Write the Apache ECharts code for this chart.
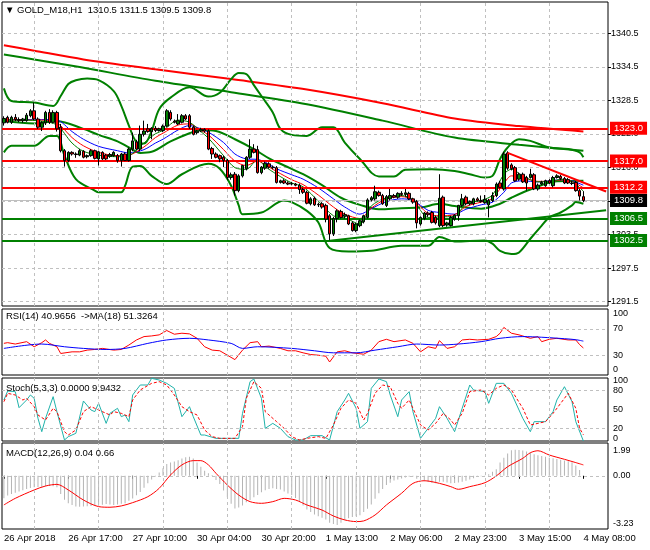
<!DOCTYPE html>
<html><head><meta charset="utf-8">
<script src="https://cdn.jsdelivr.net/npm/echarts@6/dist/echarts.min.js"></script>
<style>html,body{margin:0;padding:0;background:#fff}#c{width:650px;height:550px}</style>
</head><body><div id="c"></div>
<script>
const symbolTitle = '\u25BC GOLD_M18,H1  1310.5 1311.5 1309.5 1309.8';
const rsiTitle = 'RSI(14) 40.9656  ->MA(18) 51.3264';
const stochTitle = 'Stoch(5,3,3) 0.0000 9.9432';
const macdTitle = 'MACD(12,26,9) 0.04 0.66';
const dateLabels = ['26 Apr 2018','26 Apr 17:00','27 Apr 10:00','30 Apr 04:00','30 Apr 20:00','1 May 13:00','2 May 06:00','2 May 23:00','3 May 15:00','4 May 08:00'];
const mainTickLabels = ['1291.5','1297.5','1303.5','1309.5','1316.0','1322.0','1328.5','1334.5','1340.5'];

const opens = [1324.0,1325.0,1324.1,1325.0,1324.6,1324.4,1324.4,1325.3,1326.2,1324.7,
1323.2,1324.0,1325.9,1324.1,1325.9,1323.2,1318.9,1317.1,1318.6,1318.3,
1318.1,1318.8,1317.8,1318.0,1318.9,1317.4,1318.6,1318.1,1317.9,1318.0,
1318.0,1317.1,1318.3,1317.1,1319.2,1320.5,1319.2,1321.9,1322.9,1322.4,
1323.0,1322.6,1322.6,1323.4,1325.9,1324.3,1323.8,1324.1,1325.3,1325.3,
1323.2,1322.2,1322.5,1322.8,1322.5,1319.3,1318.3,1318.0,1317.7,1317.1,
1314.0,1314.6,1311.6,1314.3,1315.6,1317.7,1319.2,1319.1,1314.9,1315.7,
1316.5,1315.9,1315.8,1313.1,1313.4,1313.0,1312.8,1312.8,1312.6,1311.8,
1311.3,1309.2,1310.2,1309.0,1309.2,1308.9,1307.0,1303.7,1306.5,1307.8,
1306.9,1307.0,1305.7,1304.3,1305.2,1305.9,1306.7,1309.9,1310.1,1311.3,
1310.7,1308.9,1310.1,1310.7,1310.4,1311.1,1310.9,1311.1,1310.1,1309.6,
1305.5,1306.5,1307.5,1307.6,1306.7,1305.2,1310.4,1305.3,1305.2,1306.4,
1307.0,1308.9,1310.4,1309.2,1309.2,1310.1,1309.8,1309.4,1309.0,1309.8,
1310.7,1313.0,1311.9,1318.5,1316.3,1315.8,1313.7,1314.6,1314.0,1314.0,
1314.5,1311.9,1312.8,1312.5,1313.4,1312.5,1314.0,1314.2,1313.8,1313.6,
1313.0,1313.1,1311.6,1310.5];
const highs = [1325.2,1325.3,1325.3,1325.6,1325.0,1324.9,1325.8,1326.5,1327.7,1325.0,
1324.3,1326.2,1326.5,1326.3,1326.2,1323.8,1319.2,1318.8,1318.8,1318.6,
1319.2,1319.0,1318.2,1319.2,1319.1,1318.9,1318.8,1318.3,1318.5,1318.8,
1318.3,1318.5,1318.6,1319.5,1322.2,1320.9,1323.5,1324.4,1323.8,1323.2,
1323.4,1323.1,1323.7,1326.5,1326.3,1324.6,1325.6,1325.6,1325.6,1325.6,
1323.5,1322.7,1323.1,1323.0,1322.8,1319.6,1318.6,1318.2,1318.0,1317.4,
1314.9,1315.0,1314.6,1316.3,1317.9,1321.0,1320.1,1319.8,1316.1,1316.9,
1316.8,1316.2,1316.1,1313.6,1313.7,1313.3,1313.2,1313.0,1312.9,1312.1,
1311.6,1310.4,1310.5,1309.4,1309.5,1309.2,1307.3,1306.8,1308.2,1308.1,
1307.6,1307.2,1306.0,1305.7,1306.3,1307.2,1310.2,1310.6,1312.5,1311.6,
1311.0,1310.8,1311.9,1311.0,1311.3,1311.5,1311.9,1311.4,1310.3,1309.9,
1306.9,1307.7,1307.8,1307.9,1307.0,1314.6,1310.7,1305.9,1307.0,1307.3,
1309.0,1311.0,1310.7,1309.8,1310.3,1310.4,1310.7,1310.8,1310.1,1311.3,
1313.1,1313.4,1318.7,1318.8,1316.6,1316.1,1314.9,1314.9,1314.3,1315.6,
1314.8,1312.9,1313.4,1313.6,1313.7,1314.3,1314.6,1314.5,1314.1,1313.9,
1313.4,1313.4,1311.9,1311.5];
const lows = [1323.5,1323.9,1323.8,1324.3,1324.1,1324.0,1324.2,1325.0,1324.5,1322.9,
1322.5,1323.6,1323.8,1323.9,1322.4,1318.6,1316.0,1316.8,1318.0,1317.6,
1317.9,1317.5,1317.5,1317.8,1317.3,1316.2,1317.2,1317.2,1317.6,1317.8,
1316.7,1316.0,1317.0,1316.9,1318.8,1319.0,1318.8,1321.5,1322.2,1321.0,
1322.3,1322.4,1322.3,1323.2,1324.4,1323.9,1323.6,1323.9,1324.5,1322.9,
1321.7,1321.9,1322.3,1322.2,1319.0,1317.4,1317.5,1316.8,1315.9,1313.5,
1313.6,1310.7,1311.3,1314.0,1315.3,1317.4,1318.4,1314.7,1314.6,1315.4,
1315.6,1315.5,1312.9,1312.9,1312.8,1312.6,1312.6,1312.4,1311.0,1311.0,
1309.1,1308.9,1308.8,1308.6,1308.3,1305.8,1302.5,1303.3,1305.8,1306.5,
1306.5,1305.3,1304.1,1304.0,1304.9,1305.6,1306.5,1309.6,1309.8,1310.5,
1309.0,1308.6,1309.8,1310.2,1310.1,1310.6,1310.5,1309.9,1309.2,1304.7,
1305.2,1306.2,1306.8,1305.6,1305.4,1304.9,1304.9,1305.0,1305.0,1306.1,
1306.1,1308.6,1308.9,1308.9,1308.9,1309.6,1309.4,1309.2,1306.7,1309.5,
1310.4,1312.0,1311.6,1315.4,1315.3,1313.2,1313.4,1313.0,1311.6,1313.8,
1311.7,1311.6,1312.6,1312.3,1312.8,1312.2,1313.8,1313.5,1312.8,1312.8,
1312.6,1311.4,1309.8,1309.5];
const closes = [1324.8,1324.1,1325.0,1324.6,1324.4,1324.7,1325.4,1326.2,1324.7,1323.2,
1324.0,1325.9,1324.1,1325.9,1322.9,1318.9,1317.1,1318.6,1318.3,1318.2,
1318.9,1317.7,1318.0,1318.9,1317.5,1318.7,1317.4,1317.4,1318.2,1318.6,
1317.1,1318.3,1317.1,1319.2,1320.7,1319.2,1321.9,1322.5,1322.4,1323.0,
1322.6,1322.9,1323.4,1326.2,1324.7,1324.1,1324.4,1325.3,1324.7,1323.2,
1321.9,1322.5,1322.8,1322.5,1319.2,1318.3,1317.7,1317.4,1317.1,1314.0,
1314.5,1311.6,1314.3,1316.2,1317.7,1319.2,1318.6,1314.9,1315.9,1316.6,
1315.9,1315.8,1313.1,1313.4,1313.0,1312.8,1312.9,1312.6,1311.8,1311.3,
1309.3,1310.1,1309.0,1309.1,1308.6,1306.4,1303.7,1306.5,1307.9,1306.7,
1307.2,1305.5,1304.3,1305.5,1306.1,1307.0,1309.9,1310.3,1311.4,1310.7,
1309.2,1310.5,1310.7,1310.4,1311.1,1310.9,1311.2,1310.1,1309.5,1305.7,
1306.7,1307.5,1307.2,1305.8,1305.7,1310.2,1305.2,1305.7,1306.7,1307.1,
1308.9,1310.1,1309.2,1309.6,1310.1,1309.8,1309.6,1310.0,1309.8,1310.7,
1312.8,1312.2,1318.3,1315.7,1315.6,1313.4,1314.6,1313.2,1313.0,1314.6,
1311.9,1312.6,1313.1,1313.4,1313.0,1314.0,1314.3,1313.8,1313.0,1313.0,
1312.9,1311.6,1310.6,1309.8];

// long moving averages [bar index, price]
const longRedMA = [[0,1338.2],[8,1337.2],[21,1335.6],[40,1333.8],[60,1332.0],[80,1330.1],[100,1327.6],[119,1324.8],[136,1323.4],[153,1322.4]];
const longGreenMA = [[0,1336.5],[8,1335.6],[20,1334.2],[40,1331.7],[60,1329.6],[80,1327.4],[100,1324.4],[119,1321.3],[136,1320.0],[153,1318.9]];
// Bollinger bands
const bbUpper = [[0,1330.3],[2,1328.0],[8,1327.7],[13,1327.1],[15,1328.9],[17,1331.1],[19,1331.8],[22,1332.1],[25,1331.8],[29,1329.8],[31,1327.1],[33,1323.5],[35,1320.5],[37,1320.2],[39,1322.5],[41,1326.5],[44,1328.6],[49,1330.5],[54,1328.8],[57,1329.5],[60,1332.0],[62,1333.1],[64,1332.9],[66,1330.9],[68,1328.9],[71,1325.9],[73,1322.9],[76,1321.8],[80,1321.6],[84,1323.2],[87,1323.2],[90,1320.4],[94,1317.4],[99,1314.2],[103,1314.2],[106,1315.4],[113,1315.5],[119,1315.2],[123,1314.6],[127,1314.0],[129,1314.3],[131,1317.4],[133,1319.5],[136,1321.0],[139,1320.7],[144,1319.5],[149,1319.2],[152,1318.6],[153,1317.7]];
const bbMiddle = [[0,1324.4],[8,1323.9],[14,1324.3],[21,1322.9],[25,1321.8],[30,1320.6],[33,1319.5],[36,1318.5],[39,1318.7],[44,1320.6],[49,1322.1],[52,1322.7],[56,1322.5],[61,1321.0],[66,1319.2],[70,1317.5],[74,1316.2],[79,1314.6],[84,1312.6],[89,1310.3],[94,1309.0],[99,1308.2],[105,1308.4],[110,1308.5],[115,1309.2],[119,1308.8],[126,1308.3],[131,1309.2],[134,1310.3],[139,1311.8],[146,1313.3],[153,1313.4]];
const bbLower = [[0,1318.6],[2,1319.8],[8,1319.8],[12,1321.6],[14,1321.6],[16,1318.0],[19,1313.7],[24,1311.6],[25,1311.3],[31,1311.3],[32,1312.5],[34,1316.0],[36,1316.1],[39,1314.3],[43,1312.8],[47,1314.6],[54,1316.5],[57,1315.6],[60,1312.5],[62,1308.9],[63,1307.3],[68,1307.6],[74,1309.8],[76,1309.5],[80,1307.9],[83,1305.8],[86,1301.1],[91,1300.45],[97,1300.6],[105,1301.5],[112,1301.5],[115,1303.1],[119,1302.3],[127,1302.5],[129,1301.9],[131,1300.6],[134,1300.0],[136,1300.3],[139,1302.8],[142,1305.2],[144,1306.7],[147,1307.6],[150,1308.9],[151,1309.5],[153,1309.2]];
// short moving averages sampled at these bars
const maIdx = [0,5,10,14,18,21,25,30,33,37,40,42,46,49,52,54,58,61,64,67,69,72,76,79,83,87,90,94,97,101,105,108,112,115,119,122,126,129,132,134,137,141,144,148,150,153];
const maBlue = [1324.5,1324.6,1324.6,1324.5,1322.4,1321.0,1319.7,1318.9,1318.5,1319.1,1320.3,1321.0,1322.7,1323.5,1322.9,1322.3,1320.4,1318.3,1317.4,1317.3,1316.8,1315.6,1314.5,1313.7,1312.1,1310.1,1308.6,1307.3,1308.3,1309.6,1310.1,1309.8,1308.0,1307.6,1307.3,1308.2,1309.0,1309.5,1311.3,1313.0,1313.4,1313.2,1313.4,1313.6,1313.4,1312.6];
const maRed = [1324.6,1324.5,1324.5,1324.0,1321.3,1319.8,1318.6,1318.0,1318.1,1319.6,1321.3,1322.1,1323.6,1323.8,1322.6,1321.8,1319.1,1317.0,1316.2,1317.0,1316.3,1315.1,1313.6,1312.7,1310.8,1308.6,1307.3,1306.5,1308.4,1310.1,1310.5,1309.9,1307.4,1307.0,1307.2,1308.7,1309.5,1310.2,1312.9,1314.3,1314.0,1313.3,1313.3,1313.6,1313.3,1312.1];
const maGreen = [1324.5,1324.5,1324.3,1323.6,1320.3,1318.8,1318.1,1317.8,1318.0,1320.3,1322.0,1322.6,1324.5,1324.1,1322.4,1321.2,1318.0,1315.8,1315.5,1317.3,1316.0,1314.6,1313.0,1312.3,1309.7,1307.0,1306.6,1305.5,1308.8,1310.3,1310.7,1309.9,1306.7,1306.8,1306.9,1309.2,1309.8,1310.8,1314.6,1315.5,1314.3,1313.2,1313.3,1313.7,1313.3,1311.5];
// trend lines and levels
const trendRed = [[133,1318.5],[159,1311.45]];
const trendGreen = [[86,1302.45],[159,1308.0]];
const redLevels = [1323.0, 1317.0, 1312.2];
const greenLevels = [1306.5, 1302.5];
const bidPrice = 1309.8;

// RSI
const rsiLine = [[0,48.0],[1,49.0],[3,46.9],[6,50.5],[8,42.8],[10,49.0],[11,53.1],[12,48.0],[14,42.8],[15,32.6],[18,35.1],[20,35.1],[22,37.7],[24,38.7],[26,40.3],[29,37.7],[31,38.7],[33,45.4],[35,53.1],[37,58.2],[39,59.2],[41,60.8],[43,67.4],[45,61.8],[47,63.3],[49,62.3],[51,55.6],[53,42.8],[55,37.7],[57,36.7],[59,30.0],[61,23.3],[63,37.7],[65,49.0],[67,50.5],[68,42.8],[70,43.8],[73,40.3],[75,36.7],[77,36.7],[79,33.6],[81,31.0],[83,30.0],[85,28.5],[86,19.7],[88,35.1],[90,36.7],[92,33.6],[95,31.5],[97,37.7],[99,50.5],[101,54.1],[103,50.5],[106,53.1],[108,48.0],[110,35.1],[112,42.8],[114,40.3],[115,52.1],[117,40.3],[119,42.8],[121,53.1],[123,54.1],[125,53.1],[128,54.1],[130,58.2],[131,63.3],[132,72.1],[134,63.3],[136,60.8],[139,55.6],[141,58.2],[142,50.5],[144,54.1],[146,55.6],[149,53.1],[151,53.1],[152,46.0],[153,40.97]];
const rsiMA = [[0,40.3],[10,46.9],[16,42.8],[21,40.3],[27,38.7],[32,40.3],[38,47.9],[43,53.1],[49,55.6],[54,53.1],[60,47.9],[63,40.3],[67,42.8],[76,40.3],[82,36.7],[87,33.6],[93,33.6],[98,37.7],[104,42.8],[109,46.9],[115,45.4],[120,46.9],[126,50.5],[131,55.6],[137,58.2],[142,57.2],[148,55.0],[151,53.5],[153,51.33]];
// Stochastic
const stochK = [[0,65.1],[1,79.4],[3,78.3],[4,52.9],[6,65.1],[7,73.0],[8,67.7],[9,36.0],[10,14.8],[11,36.0],[13,70.4],[14,46.6],[16,1.6],[17,6.9],[19,12.2],[21,63.5],[23,49.2],[24,46.6],[25,59.8],[27,28.0],[28,43.9],[30,51.9],[31,38.6],[32,41.3],[33,30.7],[34,73.0],[36,88.9],[38,88.9],[39,99.5],[41,96.8],[43,91.5],[45,83.6],[47,38.6],[49,54.5],[50,38.6],[52,9.5],[53,9.5],[56,4.2],[59,4.2],[62,4.2],[63,43.9],[65,94.2],[66,98.4],[68,67.7],[69,20.1],[71,28.0],[73,20.1],[75,6.9],[77,1.6],[79,1.6],[81,8.5],[84,8.5],[86,1.6],[88,46.6],[90,65.1],[91,75.7],[93,51.9],[94,20.1],[96,30.7],[97,83.6],[99,98.4],[101,94.2],[102,73.0],[104,38.6],[105,65.1],[107,78.3],[108,46.6],[110,4.2],[112,20.1],[114,36.0],[115,54.5],[117,36.0],[119,14.8],[121,51.9],[123,88.9],[124,81.0],[127,78.3],[128,59.8],[130,91.5],[132,91.5],[134,75.7],[137,36.0],[139,14.8],[140,30.7],[143,30.7],[145,46.6],[146,65.1],[148,86.2],[150,62.4],[151,30.7],[153,0]];
const stochD = [[0,62.4],[1,75.7],[3,73.0],[5,65.1],[6,67.7],[8,54.5],[9,41.3],[11,33.3],[13,51.9],[14,46.6],[16,14.8],[17,9.5],[19,17.5],[21,46.6],[23,54.5],[24,51.9],[26,46.6],[28,41.3],[29,46.6],[31,43.9],[33,38.6],[34,65.1],[36,81.0],[39,91.5],[41,94.2],[43,88.9],[45,73.0],[47,54.5],[49,46.6],[51,41.3],[53,17.5],[55,6.9],[57,4.2],[61,4.2],[63,22.8],[64,67.7],[66,94.2],[68,83.6],[69,46.6],[72,30.7],[74,20.1],[76,6.9],[78,1.6],[80,4.2],[83,6.9],[85,4.2],[87,25.4],[89,51.9],[91,65.1],[93,59.8],[95,33.3],[96,43.9],[98,75.7],[100,88.9],[102,86.2],[104,59.8],[105,51.9],[107,65.1],[108,51.9],[110,25.4],[112,17.5],[114,28.0],[116,43.9],[118,33.3],[119,25.4],[121,43.9],[123,78.3],[126,81.0],[128,73.0],[130,83.6],[132,88.9],[134,81.0],[137,51.9],[139,25.4],[141,28.0],[143,30.7],[145,43.9],[148,67.7],[149,75.7],[151,51.9],[152,20.1],[153,9.94]];
// MACD
const macdHist = [-1.37,-1.20,-1.10,-1.03,-0.95,-0.88,-0.80,-0.74,-0.70,-0.68,
-0.66,-0.63,-0.62,-0.63,-0.70,-1.10,-1.45,-1.67,-1.78,-1.86,
-1.88,-1.87,-1.85,-1.83,-1.84,-1.82,-1.76,-1.72,-1.74,-1.77,
-1.74,-1.70,-1.66,-1.52,-1.38,-1.18,-0.98,-0.72,-0.45,-0.22,
-0.05,0.20,0.45,0.72,0.80,0.86,0.95,1.05,1.12,1.16,
1.05,0.80,0.55,0.30,0.15,0.05,-0.25,-0.50,-0.90,-1.30,
-1.70,-1.98,-1.92,-1.80,-1.60,-1.47,-1.30,-1.17,-1.00,-0.88,
-0.80,-0.76,-0.80,-0.84,-0.95,-1.08,-1.17,-1.35,-1.57,-1.80,
-2.05,-2.20,-2.35,-2.45,-2.55,-2.65,-2.85,-2.92,-2.99,-2.85,
-2.68,-2.58,-2.50,-2.45,-2.40,-2.20,-2.00,-1.75,-1.40,-1.06,
-0.80,-0.56,-0.42,-0.28,-0.22,-0.16,-0.10,-0.06,-0.05,-0.18,
-0.28,-0.33,-0.38,-0.44,-0.46,-0.36,-0.36,-0.40,-0.45,-0.44,
-0.40,-0.36,-0.30,-0.22,-0.15,-0.07,-0.03,-0.01,0.10,0.25,
0.40,0.80,1.10,1.35,1.55,1.58,1.57,1.53,1.48,1.40,
1.30,1.25,1.20,1.16,1.10,1.06,1.02,0.97,0.93,0.88,
0.82,0.62,0.35,0.04];
const macdSignal = [[0,-1.77],[3,-1.37],[8,-0.86],[11,-0.62],[14,-0.52],[17,-0.86],[21,-1.47],[25,-1.87],[28,-1.91],[31,-1.83],[34,-1.63],[38,-1.27],[41,-0.76],[44,0.05],[47,0.66],[50,0.92],[52,0.92],[54,0.66],[56,0.15],[59,-0.56],[62,-1.17],[65,-1.57],[68,-1.67],[71,-1.57],[74,-1.37],[77,-1.47],[80,-1.77],[84,-2.08],[87,-2.44],[90,-2.68],[93,-2.78],[95,-2.74],[98,-2.38],[101,-1.77],[105,-1.06],[108,-0.46],[111,-0.30],[115,-0.46],[118,-0.66],[120,-0.82],[123,-0.66],[127,-0.42],[130,-0.01],[133,0.55],[137,1.06],[139,1.40],[141,1.52],[144,1.26],[148,1.00],[151,0.80],[153,0.66]];

const NCAT = 160;
const cats = Array.from({length: NCAT}, (_, i) => String(i));
const gridIdx = [8,25,42,59,76,93,110,127,144];
const FONT = 'Liberation Sans, Arial, sans-serif';
const GRID_C = '#c0c0c0';

const chart = echarts.init(document.getElementById('c'), null, {renderer: 'canvas'});
const candleData = opens.map((o, i) => [o, closes[i], lows[i], highs[i]]);
const isLabel = (i) => i % 17 === 0 && i <= 153;

function xa(gi, extra) {
  return Object.assign({type:'category', gridIndex: gi, data: cats, boundaryGap: true,
    axisLine:{show:false}, axisTick:{show:false}, axisLabel:{show:false}, splitLine:{show:false}}, extra || {});
}
function ln(gi, data, color, width, extra) {
  return Object.assign({type:'line', xAxisIndex: gi, yAxisIndex: gi, data: data, symbol:'none', showSymbol:false,
    lineStyle:{color: color, width: width}, itemStyle:{color: color}, silent: true, animation: false, z: 3}, extra || {});
}
function vGrid(gi) {
  return {type:'line', xAxisIndex: gi, yAxisIndex: gi, data: [], silent: true, z: 1,
    markLine:{symbol:['none','none'], silent: true, animation: false, label:{show:false},
      lineStyle:{color: GRID_C, type:[3,3], width:1}, data: gridIdx.map(i => ({xAxis: i}))}};
}
function levelLines(gi, vals) {
  return {type:'line', xAxisIndex: gi, yAxisIndex: gi, data: [], silent: true, z: 1,
    markLine:{symbol:['none','none'], silent: true, animation: false, label:{show:false},
      lineStyle:{color: GRID_C, type:[3,3], width:1}, data: vals.map(v => ({yAxis: v}))}};
}
function boxLabel(text, bg) {
  return {show: true, position: 'end', distance: 2, formatter: text, color: '#fff', backgroundColor: bg,
    padding: [2,4,1,4], fontSize: 9.5, fontFamily: FONT};
}
const priceMarks = []
  .concat(redLevels.map(v => ({yAxis: v, lineStyle:{color:'#ff0000', width:2, type:'solid'}, label: boxLabel(v.toFixed(1), '#ff0000')})))
  .concat(greenLevels.map(v => ({yAxis: v, lineStyle:{color:'#008000', width:2, type:'solid'}, label: boxLabel(v.toFixed(1), '#008000')})))
  .concat([{yAxis: bidPrice, lineStyle:{color:'#c0c0c0', width:1, type:'solid'}, label: boxLabel(bidPrice.toFixed(1), '#000')}]);

const lblStyle = {fontSize: 9, color: '#000', fontFamily: FONT};
const ttlStyle = {fontSize: 9.5, fontWeight: 'normal', color: '#000', fontFamily: FONT};

const option = {
  animation: false,
  backgroundColor: '#fff',
  textStyle: {fontFamily: FONT, fontSize: 9, color: '#000'},
  title: [
    {text: symbolTitle, left: 5, top: 5, padding: 0, textStyle: ttlStyle},
    {text: rsiTitle, left: 6, top: 311, padding: 0, textStyle: ttlStyle},
    {text: stochTitle, left: 6, top: 383, padding: 0, textStyle: ttlStyle},
    {text: macdTitle, left: 6, top: 448, padding: 0, textStyle: ttlStyle}
  ],
  grid: [
    {left: 2, right: 42, top: 2, height: 304, show: true, borderColor: '#000', borderWidth: 1, backgroundColor: 'transparent'},
    {left: 2, right: 42, top: 33.3, height: 268.4, show: false},
    {left: 2, right: 42, top: 309, height: 66, show: true, borderColor: '#000', borderWidth: 1, backgroundColor: 'transparent'},
    {left: 2, right: 42, top: 378, height: 63, show: true, borderColor: '#000', borderWidth: 1, backgroundColor: 'transparent'},
    {left: 2, right: 42, top: 443, height: 86, show: true, borderColor: '#000', borderWidth: 1, backgroundColor: 'transparent'}
  ],
  xAxis: [
    xa(0), xa(1), xa(2), xa(3),
    xa(4, {axisLabel: {show: true, interval: (i) => isLabel(i), formatter: (v, i) => dateLabels[Math.round(i / 17)],
             align: 'left', margin: 4, fontSize: 9.5, color: '#000', fontFamily: FONT},
           axisTick: {show: true, interval: (i) => isLabel(i), alignWithLabel: true, length: 3, lineStyle: {color: '#000'}}})
  ],
  yAxis: [
    {type: 'value', gridIndex: 0, position: 'right', min: 1290.5, max: 1346.1, show: false, splitLine: {show: false}},
    {type: 'value', gridIndex: 1, position: 'right', min: 0, max: 8, interval: 1,
      axisLine: {show: false}, axisTick: {show: true, length: 3, lineStyle: {color: '#000'}},
      axisLabel: Object.assign({margin: 3, formatter: (v) => mainTickLabels[Math.round(v)]}, lblStyle),
      splitLine: {show: true, lineStyle: {color: GRID_C, type: [3,3], width: 1}}},
    {type: 'value', gridIndex: 2, position: 'right', min: 0, max: 100, interval: 10,
      axisLine: {show: false}, axisTick: {show: false}, splitLine: {show: false},
      axisLabel: Object.assign({margin: 5, formatter: (v) => v === 100 ? '{t|100}' : v === 0 ? '{b|0}' : (v === 70 || v === 30) ? String(v) : '',
        rich: {t: Object.assign({padding: [9,0,0,0]}, lblStyle), b: Object.assign({padding: [0,0,11,0]}, lblStyle)}}, lblStyle)},
    {type: 'value', gridIndex: 3, position: 'right', min: 0, max: 100, interval: 10,
      axisLine: {show: false}, axisTick: {show: false}, splitLine: {show: false},
      axisLabel: Object.assign({margin: 5, formatter: (v) => v === 100 ? '{t|100}' : v === 0 ? '{b|0}' : (v === 80 || v === 50 || v === 20) ? String(v) : '',
        rich: {t: Object.assign({padding: [6,0,0,0]}, lblStyle), b: Object.assign({padding: [0,0,5,0]}, lblStyle)}}, lblStyle)},
    {type: 'value', gridIndex: 4, position: 'right', min: -3.23, max: 1.99, interval: 3.23,
      axisLine: {show: false}, axisTick: {show: false}, splitLine: {show: false},
      axisLabel: Object.assign({margin: 5, formatter: (v) => v > 1.9 ? '{t|' + v.toFixed(2) + '}' : v < -3.2 ? '{b|' + v.toFixed(2) + '}' : v.toFixed(2),
        rich: {t: Object.assign({padding: [16,0,0,0]}, lblStyle), b: Object.assign({padding: [0,0,11,0]}, lblStyle)}}, lblStyle)}
  ],
  series: [
    vGrid(0), vGrid(2), vGrid(3), vGrid(4),
    levelLines(2, [70, 30]), levelLines(3, [80, 20]), levelLines(4, [0]),
    ln(0, longRedMA, '#ff0000', 2, {smooth: 0.3}),
    ln(0, longGreenMA, '#008000', 2, {smooth: 0.3}),
    ln(0, bbUpper, '#008000', 2, {smooth: 0.35}),
    ln(0, bbMiddle, '#008000', 2, {smooth: 0.35}),
    ln(0, bbLower, '#008000', 2, {smooth: 0.35}),
    ln(0, maIdx.map((i, k) => [i, maBlue[k]]), '#0000ff', 1, {smooth: 0.3, z: 4}),
    ln(0, maIdx.map((i, k) => [i, maRed[k]]), '#ff0000', 1, {smooth: 0.3, z: 4}),
    ln(0, maIdx.map((i, k) => [i, maGreen[k]]), '#008000', 1, {smooth: 0.3, z: 4}),
    {type: 'candlestick', xAxisIndex: 0, yAxisIndex: 0, data: candleData, barWidth: 3, silent: true, z: 5,
      itemStyle: {color: '#008000', color0: '#ff0000', borderColor: '#000', borderColor0: '#000', borderWidth: 1}},
    ln(0, trendRed, '#ff0000', 2, {z: 6}),
    ln(0, trendGreen, '#008000', 2, {z: 6}),
    {type: 'line', xAxisIndex: 0, yAxisIndex: 0, data: [], silent: true, z: 7,
      markLine: {symbol: ['none','none'], silent: true, animation: false, data: priceMarks}},
    ln(2, rsiLine, '#ff0000', 1),
    ln(2, rsiMA, '#0000ff', 1, {smooth: 0.3}),
    ln(3, stochK, '#20b2aa', 1),
    ln(3, stochD, '#ff0000', 1, {lineStyle: {color: '#ff0000', width: 1, type: [3,2]}}),
    {type: 'bar', xAxisIndex: 4, yAxisIndex: 4, data: macdHist, barWidth: 1, silent: true, z: 2,
      itemStyle: {color: '#b4b4b4'}},
    ln(4, macdSignal, '#ff0000', 1, {smooth: 0.3})
  ]
};
chart.setOption(option);
</script>
</body></html>
